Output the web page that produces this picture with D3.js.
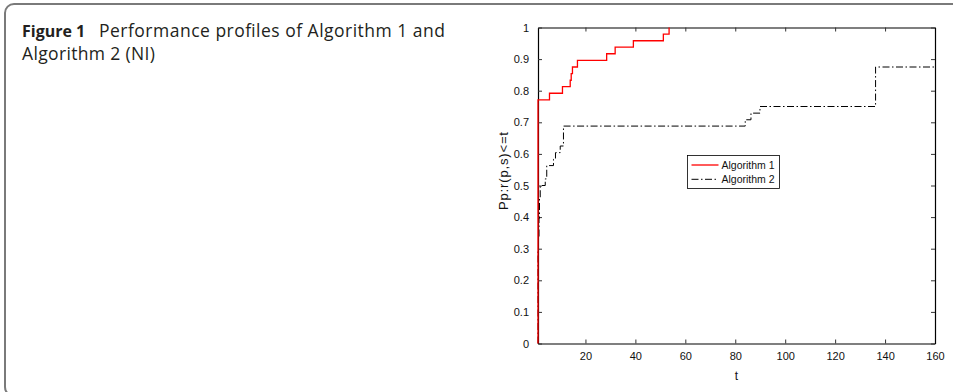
<!DOCTYPE html>
<html>
<head>
<meta charset="utf-8">
<script src="https://cdn.jsdelivr.net/npm/d3@7"></script>
<style>
  body { margin: 0; background: #fff; }
  svg { display: block; }
</style>
</head>
<body>
<div id="chart"></div>
<script>
// step points of the performance profiles (t, fraction of problems)
const alg1T = [1, 1, 5.6, 10.8, 13.9, 14.3, 14.8, 16.8, 28.5, 31.9, 39.2, 51.2, 53.5];
const alg1P = [0, 0.771, 0.792, 0.813, 0.833, 0.854, 0.875, 0.896, 0.917, 0.938, 0.958, 0.979, 1.0];
const alg2T = [1, 1, 1.2, 1.4, 1.6, 1.9, 3.9, 4.5, 7.2, 8.0, 9.9, 11.2, 84.0, 86.3, 89.9, 136.2, 160];
const alg2P = [0, 0.292, 0.333, 0.396, 0.458, 0.5, 0.521, 0.563, 0.583, 0.604, 0.625, 0.688, 0.708, 0.729, 0.75, 0.875, 0.875];
const xTicks = [20, 40, 60, 80, 100, 120, 140, 160];
const yTicks = [0, 0.1, 0.2, 0.3, 0.4, 0.5, 0.6, 0.7, 0.8, 0.9, 1];
const seriesNames = ['Algorithm 1', 'Algorithm 2'];

const W = 953, H = 392;
const plot = { left: 538, right: 935, top: 27.5, bottom: 343.5 };

const svg = d3.select('#chart').append('svg')
  .attr('width', W)
  .attr('height', H);

// caption frame (runs off the right and bottom edges)
svg.append('rect')
  .attr('x', 5).attr('y', 4)
  .attr('width', 980).attr('height', 392)
  .attr('rx', 9)
  .attr('fill', 'none')
  .attr('stroke', '#7a7a7a')
  .attr('stroke-width', 2);

// caption
const capFont = '"Open Sans", sans-serif';
svg.append('text')
  .attr('x', 22).attr('y', 37)
  .style('font-family', capFont)
  .style('font-size', '16px')
  .style('font-weight', 'bold')
  .attr('fill', '#231f20')
  .text('Figure 1');
svg.append('text')
  .attr('x', 99).attr('y', 37)
  .style('font-family', capFont)
  .style('font-size', '17.5px')
  .attr('fill', '#231f20')
  .attr('textLength', 346).attr('lengthAdjust', 'spacing')
  .text('Performance profiles of Algorithm 1 and');
svg.append('text')
  .attr('x', 22).attr('y', 59.5)
  .style('font-family', capFont)
  .style('font-size', '17.5px')
  .attr('fill', '#231f20')
  .attr('textLength', 133).attr('lengthAdjust', 'spacing')
  .text('Algorithm 2 (NI)');

const x = d3.scaleLinear().domain([1, 160]).range([plot.left, plot.right]);
const y = d3.scaleLinear().domain([0, 1]).range([plot.bottom, plot.top]);

const fontAxis = 'Liberation Sans, Arial, sans-serif';

// axes (MATLAB style: ticks inward on all four sides)
const axB = svg.append('g')
  .attr('transform', 'translate(0,' + plot.bottom + ')')
  .call(d3.axisBottom(x).tickValues(xTicks).tickSizeInner(-4).tickSizeOuter(0).tickPadding(9));
const axT = svg.append('g')
  .attr('transform', 'translate(0,' + plot.top + ')')
  .call(d3.axisTop(x).tickValues(xTicks).tickSizeInner(-4).tickSizeOuter(0).tickFormat(''));
const axL = svg.append('g')
  .attr('transform', 'translate(' + plot.left + ',0)')
  .call(d3.axisLeft(y).tickValues(yTicks).tickSizeInner(-4).tickSizeOuter(0).tickPadding(9)
    .tickFormat(d3.format('~g')));
const axR = svg.append('g')
  .attr('transform', 'translate(' + plot.right + ',0)')
  .call(d3.axisRight(y).tickValues(yTicks).tickSizeInner(-4).tickSizeOuter(0).tickFormat(''));

[axB, axT, axL, axR].forEach(g => {
  g.select('.domain').attr('stroke', '#000').attr('stroke-width', 1.2);
  g.selectAll('.tick line').attr('stroke', '#333');
  g.selectAll('.tick text')
    .attr('fill', '#111')
    .style('font-family', fontAxis)
    .style('font-size', '11px');
});

// axis labels
svg.append('text')
  .attr('x', (plot.left + plot.right) / 2)
  .attr('y', 380)
  .attr('text-anchor', 'middle')
  .style('font-family', fontAxis)
  .style('font-size', '12px')
  .attr('fill', '#111')
  .text('t');
svg.append('text')
  .attr('transform', 'translate(508,171) rotate(-90)')
  .attr('x', -39)
  .style('font-family', fontAxis)
  .style('font-size', '13px')
  .attr('fill', '#111')
  .attr('textLength', 78).attr('lengthAdjust', 'spacing')
  .text('Pp:r(p,s)<=t');

// profiles
const line = d3.line()
  .x(d => x(d[0]))
  .y(d => y(d[1]))
  .curve(d3.curveStepAfter);

const alg2 = alg2T.map((t, i) => [t, alg2P[i]]);
const alg1 = alg1T.map((t, i) => [t, alg1P[i]]);

svg.append('path')
  .datum(alg2)
  .attr('d', line)
  .attr('fill', 'none')
  .attr('stroke', '#000')
  .attr('stroke-width', 1)
  .attr('stroke-dasharray', '7,2.5,1.5,2.5');

svg.append('path')
  .datum(alg1)
  .attr('d', line)
  .attr('fill', 'none')
  .attr('stroke', '#ff0000')
  .attr('stroke-width', 1.3);

// legend
const legend = svg.append('g').attr('transform', 'translate(687.5,155.5)');
legend.append('rect')
  .attr('width', 92).attr('height', 33)
  .attr('fill', '#fff')
  .attr('stroke', '#000')
  .attr('stroke-width', 0.8);
const legStyles = [
  { stroke: '#ff0000', dash: null },
  { stroke: '#000', dash: '7,2.5,1.5,2.5' }
];
seriesNames.forEach((name, i) => {
  const yy = 9.5 + i * 14.3;
  legend.append('line')
    .attr('x1', 4).attr('x2', 31)
    .attr('y1', yy).attr('y2', yy)
    .attr('stroke', legStyles[i].stroke)
    .attr('stroke-width', legStyles[i].dash ? 1 : 1.3)
    .attr('stroke-dasharray', legStyles[i].dash);
  legend.append('text')
    .attr('x', 34).attr('y', yy)
    .attr('dy', '0.35em')
    .style('font-family', fontAxis)
    .style('font-size', '10.5px')
    .attr('fill', '#111')
    .text(name);
});
</script>
</body>
</html>
